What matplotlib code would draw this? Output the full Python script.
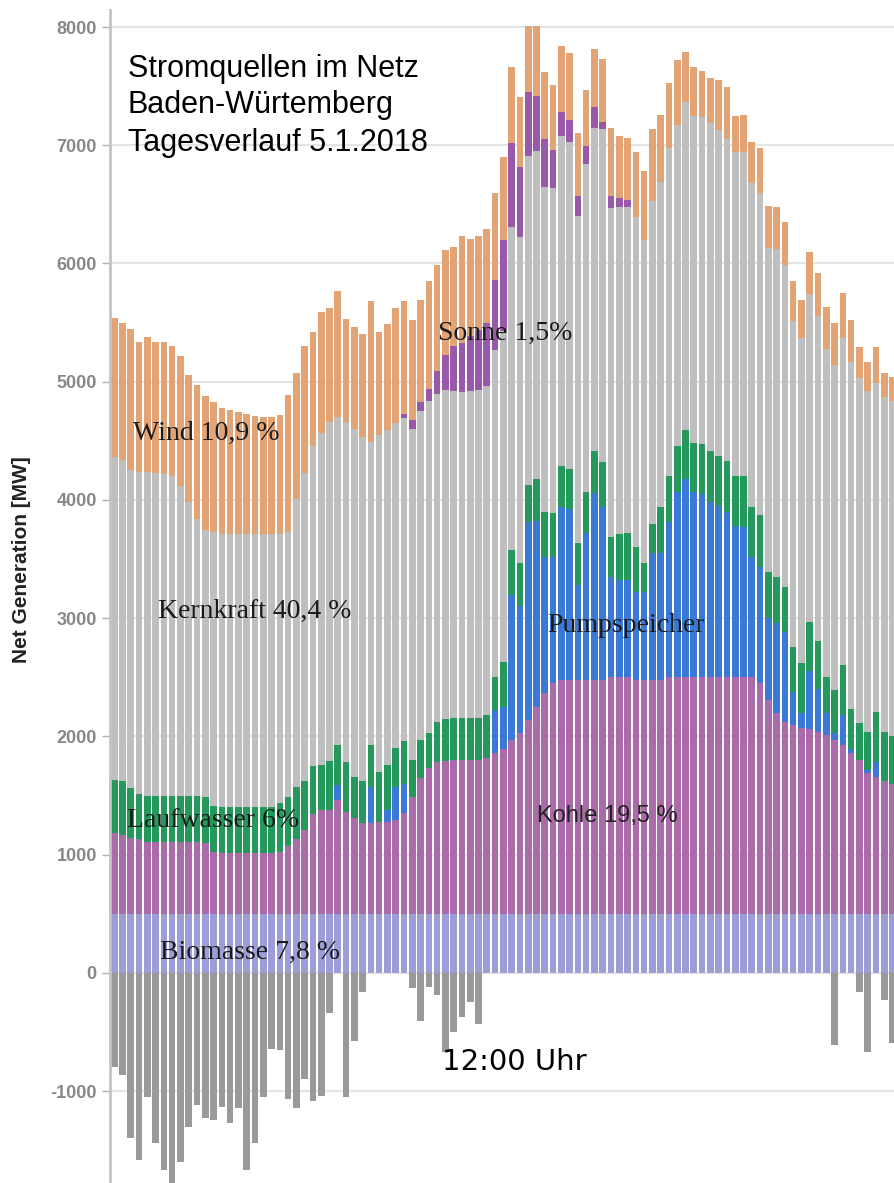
import numpy as np
import matplotlib.pyplot as plt

# Stromerzeugung Baden-Württemberg, 5.1.2018, Viertelstundenwerte (MW)
biomasse = [500] * 95

kohle = [680, 670, 640, 630, 610, 610, 610, 610, 610, 610, 610, 600,
         520, 510, 510, 510, 510, 510, 510, 510,
         520, 570, 630, 710, 840, 880, 880, 960, 860, 810,
         770, 770, 780, 780, 790, 850, 990, 1150, 1230, 1280,
         1290, 1300, 1300, 1300, 1300, 1320, 1360, 1390, 1470, 1530,
         1640, 1750, 1870, 1950, 1980, 1980, 1980, 1980, 1980, 1980,
         2000, 2000, 2000, 1980, 1980, 1980, 1980, 2000, 2000, 2000,
         2000, 2000, 2000, 2000, 2000, 2000, 2000, 2000, 1950, 1810,
         1700, 1620, 1600, 1570, 1560, 1540, 1510, 1470, 1430, 1360,
         1300, 1190, 1160, 1120, 1100]

pumpspeicher = [0, 0, 0, 0, 0, 0, 0, 0, 0, 0, 0, 0,
                0, 0, 0, 0, 0, 0, 0, 0,
                0, 0, 0, 0, 0, 0, 0, 130, 0, 0,
                0, 300, 0, 100, 280, 250, 0, 0, 0, 0,
                0, 0, 0, 0, 0, 0, 360, 360, 1230, 1070,
                1670, 1570, 1150, 1070, 1460, 1440, 800, 1240, 1580, 1460,
                850, 820, 820, 740, 740, 1070, 1070, 1310, 1570, 1680,
                1570, 1550, 1480, 1450, 1400, 1280, 1270, 1020, 980, 690,
                760, 760, 280, 130, 490, 360, 190, 60, 250, 30,
                0, 30, 120, 0, 0]

laufwasser = [450, 450, 420, 380, 390, 390, 390, 390, 390, 390, 390, 390,
              390, 390, 390, 390, 390, 390, 390, 390,
              420, 420, 440, 410, 410, 380, 410, 340, 420, 350,
              350, 360, 420, 380, 330, 360, 310, 320, 300, 340,
              360, 360, 360, 360, 360, 360, 280, 380, 380, 370,
              320, 360, 380, 370, 350, 340, 360, 350, 350, 380,
              340, 390, 400, 380, 250, 250, 390, 390, 390, 410,
              410, 420, 430, 420, 430, 420, 430, 420, 440, 390,
              390, 380, 380, 420, 420, 410, 300, 360, 420, 340,
              310, 320, 430, 420, 400]

kernkraft = [2730, 2720, 2690, 2730, 2740, 2730, 2720, 2700, 2620, 2480, 2340, 2260,
             2320, 2310, 2310, 2310, 2310, 2310, 2310, 2310,
             2270, 2240, 2440, 2610, 2710, 2810, 2870, 2770, 2880, 2940,
             2910, 2560, 2850, 2830, 2750, 2730, 2800, 2780, 2810, 2780,
             2780, 2760, 2750, 2760, 2770, 2780, 2770, 2800, 2730, 2750,
             2780, 2770, 2750, 2750, 2790, 2770, 2760, 2770, 2740, 2820,
             2780, 2770, 2760, 2790, 2730, 2730, 2750, 2780, 2710, 2780,
             2770, 2770, 2780, 2760, 2720, 2740, 2740, 2740, 2730, 2740,
             2770, 2730, 2750, 2750, 2770, 2750, 2780, 2750, 2770, 2940,
             2920, 2880, 2780, 2830, 2840]

sonne = [0, 0, 0, 0, 0, 0, 0, 0, 0, 0, 0, 0,
         0, 0, 0, 0, 0, 0, 0, 0,
         0, 0, 0, 0, 0, 0, 0, 0, 0, 0,
         0, 0, 0, 0, 0, 40, 80, 80, 100, 190,
         300, 380, 420, 470, 510, 540, 590, 770, 710, 600,
         540, 470, 400, 320, 200, 180, 170, 150, 170, 60,
         100, 70, 60, 0, 0, 0, 0, 0, 0, 0,
         0, 0, 0, 0, 0, 0, 0, 0, 0, 0,
         0, 0, 0, 0, 0, 0, 0, 0, 0, 0,
         0, 0, 0, 0, 0]

wind = [1180, 1160, 1200, 1100, 1140, 1110, 1120, 1100, 1100, 1080, 1130, 1130,
        1100, 1070, 1050, 1030, 1020, 1000, 990, 990,
        1010, 1160, 1060, 1070, 960, 1020, 960, 1070, 870, 860,
        870, 1190, 870, 900, 970, 950, 840, 860, 910, 900,
        880, 840, 900, 820, 790, 790, 740, 700, 640, 590,
        560, 590, 570, 550, 560, 570, 530, 480, 490, 530,
        580, 530, 520, 550, 580, 610, 570, 550, 550, 420,
        410, 390, 380, 420, 440, 310, 320, 350, 380, 360,
        360, 360, 340, 320, 360, 360, 350, 360, 380, 350,
        260, 250, 300, 200, 200]

# Pumpen / Export (negativ)
pumpen_export = [-800, -860, -1400, -1580, -1050, -1440, -1670, -1800, -1600, -1300,
                 -1120, -1230, -1240, -1130, -1270, -1140, -1670, -1440, -1050, -640,
                 -650, -1070, -1140, -900, -1080, -1040, -340, 0, -1050, -580,
                 -160, 0, 0, 0, 0, 0, -130, -410, -120, -190,
                 -670, -500, -370, -250, -430, 0, 0, 0, 0, 0,
                 0, 0, 0, 0, 0, 0, 0, 0, 0, 0,
                 0, 0, 0, 0, 0, 0, 0, 0, 0, 0,
                 0, 0, 0, 0, 0, 0, 0, 0, 0, 0,
                 0, 0, 0, 0, 0, 0, 0, -610, 0, 0,
                 -160, -670, 0, -230, -590]

y_ticks = [-1000, 0, 1000, 2000, 3000, 4000, 5000, 6000, 7000, 8000]

title_lines = ['Stromquellen im Netz', 'Baden-Würtemberg', 'Tagesverlauf 5.1.2018']

layers = [
    (biomasse, '#9d9dd8'),
    (kohle, '#ab6aa9'),
    (pumpspeicher, '#3b79d6'),
    (laufwasser, '#25985c'),
    (kernkraft, '#bfbfbf'),
    (sonne, '#9a58aa'),
    (wind, '#e2a375'),
]

x = np.arange(len(wind))

fig = plt.figure(figsize=(8.95, 11.83), dpi=100)
ax = fig.add_axes([110 / 895, 0, 785 / 895, 1173 / 1183])

bottom = np.zeros(len(x))
for vals, col in layers:
    ax.bar(x, vals, bottom=bottom, width=0.8, color=col, linewidth=0, zorder=2)
    bottom += np.array(vals)

ax.bar(x, pumpen_export, width=0.8, color='#9a9a9a', linewidth=0, zorder=2)

ax.set_xlim(-0.51, 94.3)
ax.set_ylim(-1777, 8144)
ax.set_yticks(y_ticks)
ax.set_yticklabels([str(t) for t in y_ticks], color='#888888', fontsize=13,
                   fontweight='bold', family='Liberation Sans')
ax.set_xticks([])
ax.grid(axis='y', color='#e4e4e4', linewidth=1.5, zorder=0)
ax.set_axisbelow(True)
ax.tick_params(axis='y', length=6, width=1, color='#b0b0b0', pad=3.5)
for side in ['top', 'right', 'bottom']:
    ax.spines[side].set_visible(False)
ax.spines['left'].set_color('#c4c4c4')
ax.spines['left'].set_linewidth(2)

fig.text(22 / 895, 1 - 560 / 1183, 'Net Generation [MW]', rotation=90,
         ha='center', va='center', fontsize=15, fontweight='bold',
         family='Liberation Sans', color='#222222')

# Titel, Grundlinien bei 77, 113 und 151 px
for line, base in zip(title_lines, [77, 113, 151]):
    fig.text(128 / 895, 1 - base / 1183, line, ha='left', va='baseline',
             fontsize=22, family='Liberation Sans', color='black')

serif = dict(family='Liberation Serif', fontsize=20, color='#1a1a1a',
             ha='left', va='baseline', zorder=5)
ax.text(2.27, 4507, 'Wind 10,9 %', **serif)
ax.text(5.3, 3002, 'Kernkraft 40,4 %', **serif)
ax.text(39.1, 5353, 'Sonne 1,5%', **serif)
ax.text(52.3, 2884, 'Pumpspeicher', **serif)
ax.text(1.55, 1235, 'Laufwasser 6%', **serif)
ax.text(5.5, 118, 'Biomasse 7,8 %', **serif)
ax.text(51.1, 1277, 'Kohle 19,5 %', family='Liberation Sans', fontsize=17,
        color='#222222', ha='left', va='baseline', zorder=5)
ax.text(39.6, -820, '12:00 Uhr', family='DejaVu Sans', fontsize=21,
        color='black', ha='left', va='baseline', zorder=5)

fig.savefig('out.png', dpi=100)
